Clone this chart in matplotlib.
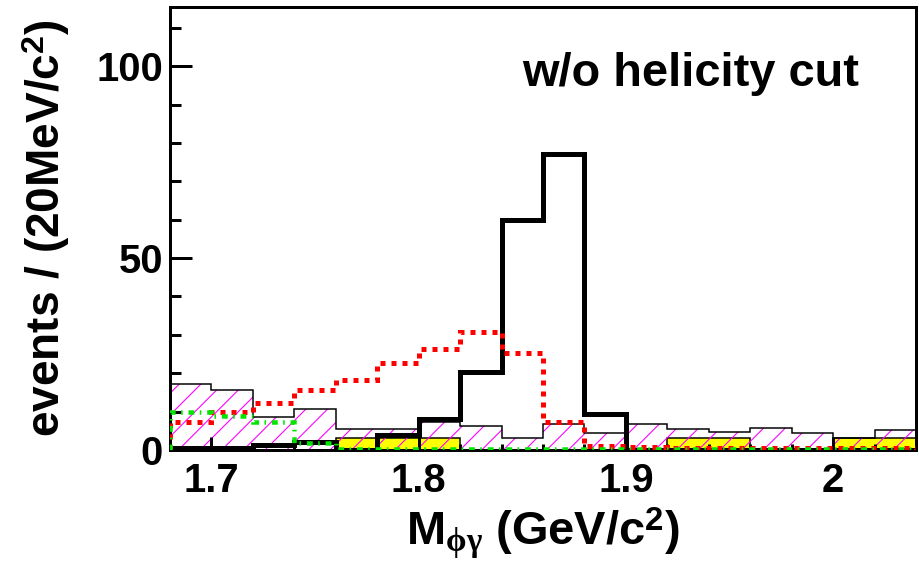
import matplotlib
matplotlib.use("Agg")
import matplotlib.pyplot as plt
from matplotlib.ticker import MultipleLocator, FixedLocator

DPI = 130


def px(v):
    # sizes in pixels -> points
    return v * 72.0 / DPI


# bin edges, 20 MeV/c^2 each
edges = [1.68, 1.70, 1.72, 1.74, 1.76, 1.78, 1.80, 1.82, 1.84, 1.86,
         1.88, 1.90, 1.92, 1.94, 1.96, 1.98, 2.00, 2.02, 2.04]

# thick black (signal)
signal = [0.5, 0.5, 1.2, 2.0, 0.0, 4.0, 8.2, 20.2, 59.8, 77.0,
          9.4, 0.0, 0.0, 0.0, 0.0, 0.0, 0.0, 0.0]
# magenta hatched
hatched = [17.2, 15.6, 8.7, 10.6, 5.6, 5.6, 7.3, 6.2, 3.1, 6.7,
           4.5, 6.9, 5.5, 4.6, 5.7, 4.3, 3.1, 5.3]
# yellow filled
yellow = [0.0, 0.0, 0.0, 0.0, 3.0, 3.0, 3.0, 0.0, 0.0, 0.0,
          0.0, 0.0, 3.0, 3.0, 0.0, 0.0, 3.0, 3.0]
# red dotted
red = [7.2, 10.0, 12.2, 15.6, 18.2, 22.7, 26.3, 30.7, 25.2, 7.2,
       1.1, 0.7, 0.6, 0.5, 0.5, 0.5, 0.5, 0.5]
# green dash-dot
green = [9.8, 8.9, 7.4, 1.7, 0.3, 0.3, 0.3, 0.3, 0.3, 0.3,
         0.3, 0.3, 0.3, 0.3, 0.3, 0.3, 0.3, 0.3]

xticks = [1.7, 1.8, 1.9, 2.0]
xticklabels = ['1.7', '1.8', '1.9', '2']

plt.rcParams['font.family'] = ['Liberation Sans', 'DejaVu Sans']
plt.rcParams['font.weight'] = 'bold'
plt.rcParams['axes.labelweight'] = 'bold'
plt.rcParams['mathtext.fontset'] = 'custom'
plt.rcParams['mathtext.rm'] = 'Liberation Sans:bold'
plt.rcParams['mathtext.bf'] = 'Liberation Sans:bold'
plt.rcParams['mathtext.it'] = 'Liberation Serif'
plt.rcParams['hatch.linewidth'] = px(1.1)

fig = plt.figure(figsize=(919 / DPI, 568 / DPI), dpi=DPI)
ax = fig.add_axes([170 / 919, 118 / 568, 746 / 919, 443 / 568])

ax.stairs(yellow, edges, baseline=0, fill=True, facecolor='#ffff00',
          edgecolor='none', zorder=1)
ax.stairs(yellow, edges, baseline=0, color='black', lw=px(1.5), zorder=1.1)
ax.stairs(hatched, edges, baseline=0, fill=True, facecolor='none',
          edgecolor='#ff00ff', hatch='//', lw=0, zorder=1.5)
ax.stairs(hatched, edges, baseline=0, color='black', lw=px(1.5), zorder=1.6)
ax.stairs(signal, edges, baseline=0, color='black', lw=px(5), zorder=2)
# dotted ones sit on top of the frame, like in the original
ax.stairs(red, edges, baseline=0, color='#ff0000', lw=px(5),
          linestyle=(0, (1, 1.2)), zorder=2.9)
ax.stairs(green, edges, baseline=0, color='#00e600', lw=px(4.5),
          linestyle=(0, (1.3, 1.2, 0.35, 1.3)), zorder=3)

ax.set_xlim(1.68, 2.04)
ax.set_ylim(0, 115.4)
ax.xaxis.set_major_locator(FixedLocator(xticks))
ax.set_xticklabels(xticklabels)
ax.xaxis.set_minor_locator(MultipleLocator(0.02))
ax.yaxis.set_major_locator(MultipleLocator(50))
ax.yaxis.set_minor_locator(MultipleLocator(10))

ax.tick_params(which='both', direction='in', top=False, right=False,
               width=px(3), labelsize=px(40))
ax.tick_params(axis='y', which='major', length=px(22), pad=px(7))
ax.tick_params(axis='y', which='minor', length=px(11))
ax.tick_params(axis='x', which='major', length=px(13), pad=px(12))
ax.tick_params(axis='x', which='minor', length=px(6.5))
for s in ax.spines.values():
    s.set_linewidth(px(3))

ax.set_xlabel(r'M$_{\mathit{\phi\gamma}}$ (GeV/c$^{\mathregular{2}}$)',
              fontsize=px(47), fontweight='bold', va='baseline')
ax.xaxis.set_label_coords(0.5, -0.2144)
ax.set_ylabel(r'events / (20MeV/c$^{\mathregular{2}}$)',
              fontsize=px(46), fontweight='bold', va='center')
ax.yaxis.set_label_coords(-0.165, 0.5)

ax.text(0.472, 0.8217, 'w/o helicity cut', transform=ax.transAxes,
        fontsize=px(47), fontweight='bold', ha='left', va='baseline')

fig.savefig('out.png', dpi=DPI)
